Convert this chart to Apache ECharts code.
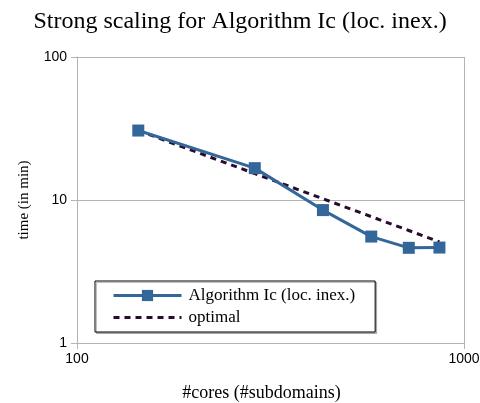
<!DOCTYPE html>
<html>
<head>
<meta charset="utf-8">
<script src="https://cdn.jsdelivr.net/npm/echarts@6/dist/echarts.min.js"></script>
<style>
  html, body { margin: 0; padding: 0; background: #fff; }
  #chart { width: 480px; height: 403px; }
</style>
</head>
<body>
<div id="chart"></div>
<script>
// Number of cores (= number of subdomains)
const cores = [144, 288, 432, 576, 720, 864];
// Measured run time in minutes
const measuredTime = [30.6, 16.7, 8.5, 5.55, 4.63, 4.65];
// Ideal strong scaling from the first run
const optimalTime = [30.6, 15.3, 10.2, 7.65, 6.12, 5.1];

const seriesNames = ['Algorithm Ic (loc. inex.)', 'optimal'];
const serif = '"Liberation Serif", "DejaVu Serif", serif';
const sans = '"Liberation Sans", Arial, sans-serif';

const chart = echarts.init(document.getElementById('chart'), null, { renderer: 'canvas' });

chart.setOption({
  animation: false,
  backgroundColor: '#fff',
  title: {
    text: 'Strong scaling for Algorithm Ic (loc. inex.)',
    left: 'center',
    top: 5,
    textStyle: { fontFamily: serif, fontSize: 24, fontWeight: 'normal', color: '#000' }
  },
  grid: { left: 77, right: 16, top: 57, bottom: 60, outerBoundsMode: 'none', containLabel: false },
  legend: {
    orient: 'vertical',
    left: 95,
    top: 281,
    padding: [6, 20, 6, 17],
    itemGap: 5,
    itemWidth: 68,
    itemHeight: 14,
    borderColor: '#000',
    borderWidth: 1,
    backgroundColor: '#fff',
    shadowColor: 'rgba(0,0,0,0.25)',
    shadowOffsetX: 1.5,
    shadowOffsetY: 1.5,
    shadowBlur: 0,
    lineStyle: { width: 3 },
    textStyle: { fontFamily: serif, fontSize: 17, color: '#000', padding: [0, 0, 0, 2] },
    data: [
      { name: seriesNames[0] },
      { name: seriesNames[1], itemStyle: { opacity: 0 } }
    ]
  },
  xAxis: {
    type: 'log',
    logBase: 10,
    min: 100,
    max: 1000,
    name: '#cores (#subdomains)',
    nameLocation: 'middle',
    nameGap: 41,
    nameTextStyle: { fontFamily: serif, fontSize: 18, color: '#000', padding: [0, 18, 0, 0] },
    axisLine: { lineStyle: { color: '#b3b3b3', width: 1 } },
    axisTick: { show: true, length: 6, lineStyle: { color: '#b3b3b3' } },
    minorTick: { show: false },
    axisLabel: { fontFamily: sans, fontSize: 14, color: '#000', margin: 9, formatter: v => String(v) },
    splitLine: { show: true, lineStyle: { color: '#b3b3b3', width: 1 } }
  },
  yAxis: {
    type: 'log',
    logBase: 10,
    min: 1,
    max: 100,
    name: 'time (in min)',
    nameLocation: 'middle',
    nameGap: 45,
    nameTextStyle: { fontFamily: serif, fontSize: 15, color: '#000' },
    axisLine: { show: true, lineStyle: { color: '#b3b3b3', width: 1 } },
    axisTick: { show: true, length: 6, lineStyle: { color: '#b3b3b3' } },
    axisLabel: { fontFamily: sans, fontSize: 14, color: '#000', margin: 10, formatter: v => String(v) },
    splitLine: { show: true, lineStyle: { color: '#b3b3b3', width: 1 } }
  },
  series: [
    {
      name: seriesNames[1],
      type: 'line',
      data: cores.map((c, i) => [c, optimalTime[i]]),
      showSymbol: false,
      symbol: 'none',
      lineStyle: { color: '#2a0a2e', width: 3, type: [6, 5] },
      itemStyle: { color: '#2a0a2e' },
      z: 2
    },
    {
      name: seriesNames[0],
      type: 'line',
      data: cores.map((c, i) => [c, measuredTime[i]]),
      symbol: 'rect',
      symbolSize: 12,
      lineStyle: { color: '#336699', width: 3 },
      itemStyle: { color: '#336699' },
      z: 3
    }
  ]
});
</script>
</body>
</html>
